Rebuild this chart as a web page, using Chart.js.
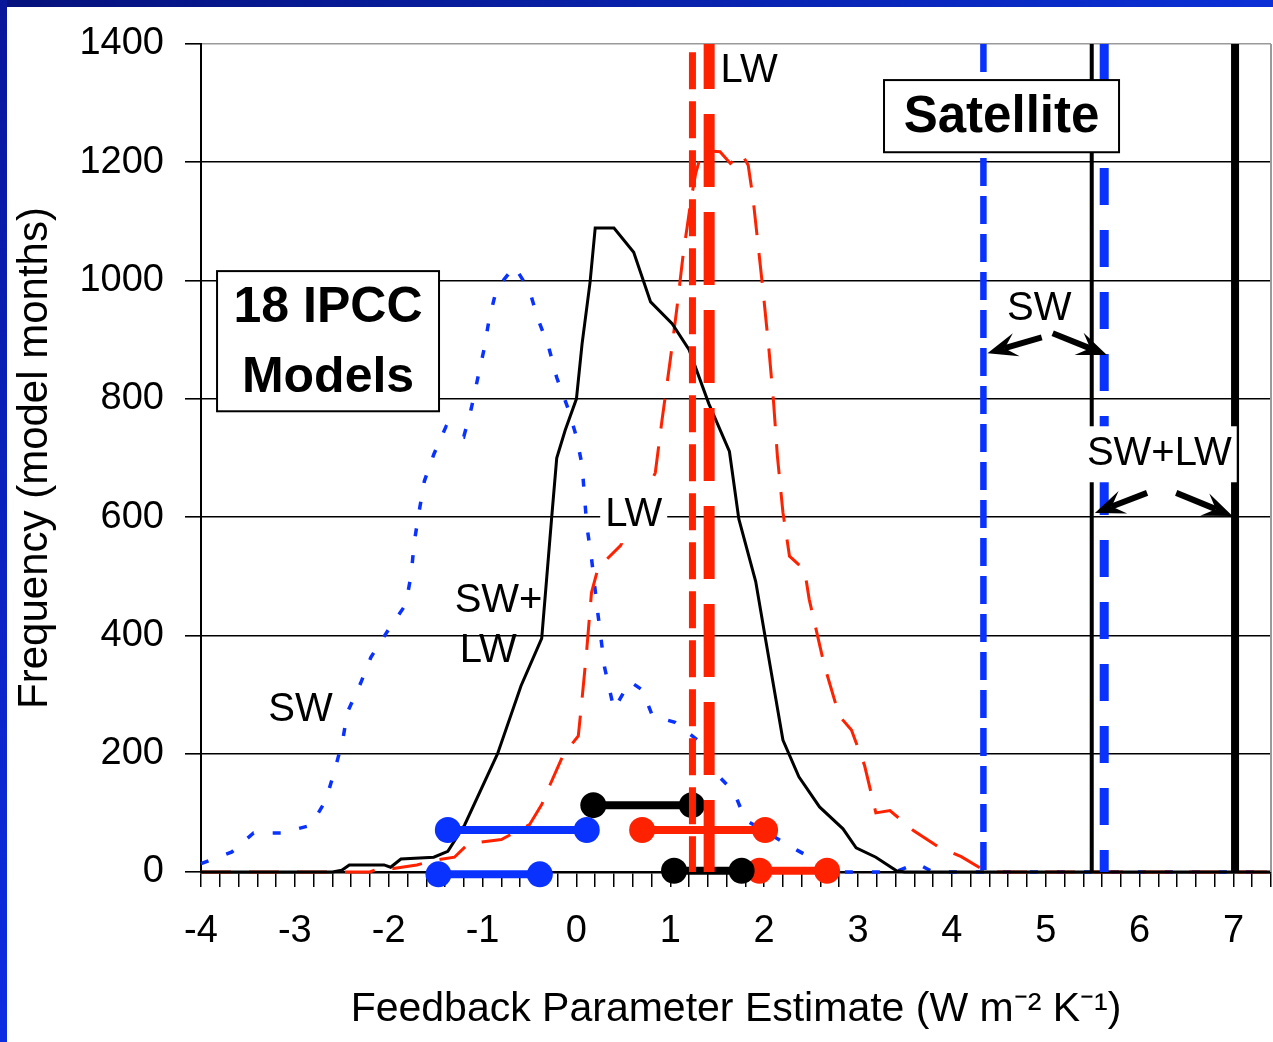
<!DOCTYPE html>
<html><head><meta charset="utf-8">
<script src="https://cdn.jsdelivr.net/npm/chart.js@4.4.1/dist/chart.umd.min.js"></script>
<style>html,body{margin:0;padding:0;background:#fff;overflow:hidden}canvas{display:block}</style>
</head><body>
<canvas id="c" width="1273" height="1042" style="width:1273px;height:1042px"></canvas>
<script>
// ---------- data ----------
const xTicksMin = -4, xTicksMax = 7.4;
const yTicks = [0, 200, 400, 600, 800, 1000, 1200, 1400];

// SW (models) histogram
const swX = [-4, -3.67, -3.44, -3.14, -2.83, -2.67, -2.57, -2.49, -2.44, -2.30, -2.19, -2.01, -1.82, -1.76, -1.73, -1.68, -1.62, -1.52, -1.39, -1.20, -1.12, -1.05, -0.98, -0.93, -0.85, -0.66, -0.50, -0.41, -0.30, -0.21, -0.09, 0.00, 0.06, 0.11, 0.16, 0.23, 0.30, 0.40, 0.57, 0.70, 0.81, 1.05, 1.29, 1.48, 1.68, 1.80, 2.35, 2.60, 2.80, 3.40, 3.62, 3.80, 7.4];
const swY = [14, 34, 66, 66, 79, 121, 175, 223, 270, 319, 363, 408, 452, 503, 555, 606, 661, 706, 753, 736, 784, 836, 887, 935, 986, 1024, 983, 935, 890, 836, 784, 736, 688, 586, 531, 435, 346, 275, 322, 308, 264, 253, 223, 168, 135, 88, 37, 15, 0, 0, 15, 0, 0];

// SW+LW (models) histogram
const swlwX = [-4, -2.6, -2.5, -2.42, -2.05, -1.98, -1.87, -1.52, -1.37, -1.19, -0.84, -0.59, -0.37, -0.32, -0.265, -0.21, -0.12, 0.0, 0.06, 0.145, 0.2, 0.4, 0.61, 0.79, 1.02, 1.2, 1.41, 1.63, 1.73, 1.91, 2.02, 2.2, 2.37, 2.59, 2.84, 2.98, 3.19, 3.41, 3.5, 7.4];
const swlwY = [0, 0, 3, 12, 12, 8, 22, 25, 35, 80, 200, 315, 395, 491, 597, 700, 747, 800, 893, 997, 1089, 1089, 1048, 964, 927, 883, 792, 711, 597, 491, 389, 223, 161, 110, 73, 41, 25, 2, 0, 0];

// LW (models) histogram
const lwX = [-4, -2.2, -2.1, -1.95, -1.7, -1.5, -1.3, -1.15, -0.8, -0.5, -0.37, -0.28, -0.14, 0.02, 0.06, 0.11, 0.16, 0.23, 0.47, 0.65, 0.84, 0.91, 1.0, 1.07, 1.14, 1.18, 1.22, 1.27, 1.34, 1.53, 1.64, 1.76, 1.83, 1.88, 1.93, 1.99, 2.05, 2.1, 2.14, 2.2, 2.27, 2.43, 2.48, 2.64, 2.8, 2.93, 3.07, 3.19, 3.34, 3.59, 3.85, 4.1, 4.3, 4.45, 7.4];
const lwY = [0, 0, 6, 6, 12, 20, 25, 48, 55, 80, 114, 148, 198, 230, 293, 376, 472, 514, 552, 610, 675, 762, 866, 953, 1048, 1091, 1136, 1181, 1220, 1218, 1198, 1215, 1195, 1141, 1068, 980, 885, 795, 705, 608, 534, 511, 461, 350, 264, 240, 180, 100, 104, 70, 43, 26, 7, 0, 0];

// ranges (horizontal bars with end markers): [start, end, level]
const rangeBlueUpper  = [-1.37, 0.11, 71];
const rangeBlueLower  = [-1.47, -0.39, -4];
const rangeBlackUpper = [0.18, 1.23, 113];
const rangeRedUpper   = [0.70, 2.01, 71];
const rangeBlackLower = [1.04, 1.76, 2];
const rangeRedLower   = [1.95, 2.67, 2];

// vertical reference lines: x value and vertical extent
const vRedThick   = [1.414, 0, 1400];
const vRedThin    = [1.236, 0, 1386];
const vBlueThin   = [4.336, -4, 1400];
const vBlueThick  = [5.623, 0, 1400];
const vBlackThin  = [5.49, 0, 1400];
const vBlackThick = [7.017, 0, 1400];

// text annotations (data coordinates)
const noteText = ['LW', 'SW', 'SW+LW', 'LW', 'SW+', 'LW', 'SW'];
const noteX    = [1.84, 4.93, 6.21, 0.61, -0.83, -0.94, -2.94];
const noteY    = [1356, 953, 708, 605, 460, 375, 276];
const noteBg   = [false, false, true, true, false, false, false];

// arrows [x1,y1,x2,y2] (tail -> tip)
const arrows = [
  [4.957, 904, 4.379, 877],
  [5.074, 911, 5.652, 874],
  [6.08, 641, 5.524, 607],
  [6.39, 641, 6.99, 602]
];

// boxed titles: [x1, x2, yTop, yBottom] + lines
const boxIPCC = [-3.829, -1.464, 1016, 779];
const boxIPCCText = ['18 IPCC', 'Models'];
const boxSat = [3.277, 5.781, 1339, 1217];
const boxSatText = ['Satellite'];

// ---------- build ----------
const pts = (xs, ys) => xs.map((x, i) => ({x, y: ys[i]}));
const seg = r => [{x: r[0], y: r[2]}, {x: r[1], y: r[2]}];
const vseg = v => [{x: v[0], y: v[2]}, {x: v[0], y: v[1]}];

const BLUE = '#0a32ff', RED = '#ff2200', BLACK = '#000000';
const FONT = '"Liberation Sans", Arial, Helvetica, sans-serif';

function lineDS(data, color, width, dash, offset) {
  return {data, showLine: true, borderColor: color, borderWidth: width, borderDash: dash || [],
    borderDashOffset: offset || 0, pointRadius: 0, pointHoverRadius: 0, tension: 0, clip: false,
    borderCapStyle: 'butt', backgroundColor: color, fill: false};
}
function rangeDS(r, color) {
  return {data: seg(r), showLine: true, borderColor: color, borderWidth: 8, pointRadius: 13,
    pointHoverRadius: 13, pointBackgroundColor: color, pointBorderColor: color, pointBorderWidth: 0,
    clip: false, backgroundColor: color, borderCapStyle: 'butt'};
}

const datasets = [
  lineDS(vseg(vRedThick), RED, 11, [73, 25], 28),
  lineDS(vseg(vRedThin), RED, 7, [37, 12], 0),
  rangeDS(rangeBlackUpper, BLACK),
  rangeDS(rangeRedUpper, RED),
  rangeDS(rangeBlackLower, BLACK),
  rangeDS(rangeRedLower, RED),
  rangeDS(rangeBlueUpper, BLUE),
  rangeDS(rangeBlueLower, BLUE),
  lineDS(vseg(vBlueThin), BLUE, 6.5, [28, 10], 0),
  lineDS(vseg(vBlueThick), BLUE, 9, [37, 25], 0),
  lineDS(vseg(vBlackThin), BLACK, 4),
  lineDS(vseg(vBlackThick), BLACK, 8),
  lineDS(pts(swlwX, swlwY), BLACK, 3),
  lineDS(pts(lwX, lwY), RED, 3, [30, 18], 0),
  lineDS(pts(swX, swY), BLUE, 3.5, [8, 19], 0)
];
datasets.forEach((d, i) => d.order = i);

function drawArrow(ctx, x1, y1, x2, y2) {
  const a = Math.atan2(y2 - y1, x2 - x1);
  const L = 26, W = 24;
  const c = Math.cos(a), s = Math.sin(a);
  const bx = x2 - L * c, by = y2 - L * s;
  ctx.lineWidth = 6;
  ctx.beginPath(); ctx.moveTo(x1, y1); ctx.lineTo(bx + 8 * c, by + 8 * s); ctx.stroke();
  ctx.beginPath();
  ctx.moveTo(x2, y2);
  ctx.lineTo(bx - 4 * c + W / 2 * s, by - 4 * s - W / 2 * c);
  ctx.lineTo(bx + 8 * c, by + 8 * s);
  ctx.lineTo(bx - 4 * c - W / 2 * s, by - 4 * s + W / 2 * c);
  ctx.closePath(); ctx.fill();
}

const decor = {
  id: 'decor',
  beforeDraw(chart) {
    const ctx = chart.ctx, w = chart.width, h = chart.height;
    ctx.save();
    ctx.fillStyle = '#ffffff'; ctx.fillRect(0, 0, w, h);
    const g = ctx.createLinearGradient(0, 0, w, 0);
    g.addColorStop(0, '#06127c'); g.addColorStop(1, '#0b30d6');
    ctx.fillStyle = g; ctx.fillRect(0, 0, w, 7);
    const g2 = ctx.createLinearGradient(0, 0, 0, h);
    g2.addColorStop(0, '#08169a'); g2.addColorStop(1, '#0c2ee2');
    ctx.fillStyle = g2; ctx.fillRect(0, 0, 7, h);
    ctx.restore();
  },
  afterDatasetsDraw(chart) {
    const {ctx, chartArea: ca} = chart;
    const xs = chart.scales.x, ys = chart.scales.y;
    const px = v => xs.getPixelForValue(v), py = v => ys.getPixelForValue(v);
    ctx.save();
    // right frame edge
    ctx.strokeStyle = '#9a9a9a'; ctx.lineWidth = 2;
    ctx.beginPath(); ctx.moveTo(ca.right, ca.top); ctx.lineTo(ca.right, ca.bottom); ctx.stroke();
    // text notes
    ctx.font = '40px ' + FONT; ctx.textAlign = 'center'; ctx.textBaseline = 'middle';
    noteText.forEach((t, i) => {
      const x = px(noteX[i]), y = py(noteY[i]);
      if (noteBg[i]) {
        const m = ctx.measureText(t).width;
        ctx.fillStyle = '#fff';
        ctx.fillRect(x - m / 2 - 5, y - 27, m + 10, 56);
      }
      ctx.fillStyle = '#000';
      ctx.fillText(t, x, y + 1);
    });
    // arrows
    ctx.strokeStyle = '#000'; ctx.fillStyle = '#000'; ctx.lineCap = 'butt';
    arrows.forEach(a => drawArrow(ctx, px(a[0]), py(a[1]), px(a[2]), py(a[3])));
    // boxes
    [[boxIPCC, boxIPCCText, 50], [boxSat, boxSatText, 51]].forEach(([b, lines, fs]) => {
      const x1 = px(b[0]), x2 = px(b[1]), y1 = py(b[2]), y2 = py(b[3]);
      ctx.fillStyle = '#fff'; ctx.fillRect(x1, y1, x2 - x1, y2 - y1);
      ctx.strokeStyle = '#000'; ctx.lineWidth = 2; ctx.strokeRect(x1, y1, x2 - x1, y2 - y1);
      ctx.fillStyle = '#000'; ctx.font = 'bold ' + fs + 'px ' + FONT;
      const hgt = (y2 - y1);
      lines.forEach((t, i) => {
        ctx.fillText(t, (x1 + x2) / 2, y1 + hgt * (i + 0.5) / lines.length + 2);
      });
    });
    ctx.restore();
  }
};

new Chart(document.getElementById('c'), {
  type: 'scatter',
  data: {datasets},
  options: {
    responsive: false, animation: false, devicePixelRatio: 1,
    layout: {autoPadding: false, padding: {top: 44, right: 2, left: 0, bottom: 0}},
    plugins: {legend: {display: false}, tooltip: {enabled: false}},
    events: [],
    scales: {
      x: {
        type: 'linear', min: xTicksMin, max: xTicksMax,
        afterFit: s => { s.height = 170; s.paddingLeft = 0; s.paddingRight = 0; },
        ticks: {stepSize: 0.2, autoSkip: false, maxRotation: 0, minRotation: 0, padding: 22, color: '#000',
          font: {family: FONT, size: 38},
          callback: v => Math.abs(v - Math.round(v)) < 1e-6 ? String(Math.round(v)) : ''},
        grid: {drawOnChartArea: false, drawTicks: true, tickLength: 15, color: '#000', lineWidth: 1.5},
        border: {display: true, color: '#000', width: 2.5},
        title: {display: true, text: 'Feedback Parameter Estimate (W m\u207B\u00B2 K\u207B\u00B9)', color: '#000',
          font: {family: FONT, size: 41}, padding: {top: 0, bottom: 8}}
      },
      y: {
        type: 'linear', min: 0, max: 1400,
        afterFit: s => { s.width = 201; },
        afterBuildTicks: s => { s.ticks = yTicks.map(v => ({value: v})); },
        ticks: {padding: 21, color: '#000', font: {family: FONT, size: 38}, callback: v => String(v)},
        grid: {color: c => (c.tick && c.tick.value === 1400) ? '#9a9a9a' : '#000', lineWidth: 1.6,
          tickLength: 16, tickColor: '#000'},
        border: {display: true, color: '#000', width: 2},
        title: {display: true, text: 'Frequency (model months)', color: '#000',
          font: {family: FONT, size: 42}, padding: {top: 10, bottom: 0}}
      }
    }
  },
  plugins: [decor]
});
</script>
</body></html>
